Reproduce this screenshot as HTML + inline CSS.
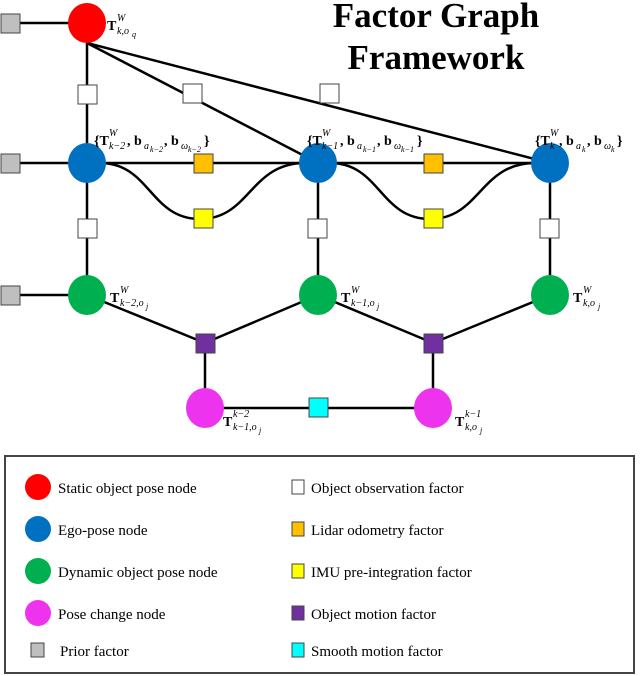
<!DOCTYPE html>
<html><head><meta charset="utf-8"><style>
html,body{margin:0;padding:0;background:#fff}
svg{display:block}
.lg{font-family:"Liberation Serif",serif;font-size:15px}
.m{font-family:"Liberation Serif",serif;font-size:14px;font-weight:bold}
.s{font-family:"Liberation Serif",serif;font-size:10px;font-style:italic}
.ss{font-family:"Liberation Serif",serif;font-size:8px;font-style:italic}
</style></head><body>
<svg width="640" height="676" viewBox="0 0 640 676" xmlns="http://www.w3.org/2000/svg">
<g stroke="#000" stroke-width="2.5" fill="none">
<line x1="10" y1="23" x2="87" y2="23"/>
<line x1="10" y1="163" x2="550" y2="163"/>
<line x1="10" y1="295" x2="87" y2="295"/>
<line x1="87" y1="23" x2="87" y2="295"/>
<line x1="318" y1="163" x2="318" y2="295"/>
<line x1="550" y1="163" x2="550" y2="295"/>
<line x1="87" y1="43" x2="318" y2="163"/>
<line x1="87" y1="43" x2="550" y2="163"/>
<path d="M100,163 C150,163 150,219 200,219 C250,219 250,163 305,163"/>
<path d="M330,163 C380,163 380,219 430,219 C480,219 480,163 535,163"/>
<line x1="87" y1="295" x2="205" y2="343"/>
<line x1="318" y1="295" x2="205" y2="343"/>
<line x1="318" y1="295" x2="433" y2="343"/>
<line x1="550" y1="295" x2="433" y2="343"/>
<line x1="205" y1="343" x2="205" y2="408"/>
<line x1="433" y1="343" x2="433" y2="408"/>
<line x1="205" y1="408" x2="433" y2="408"/>
</g>
<g stroke="#444" stroke-width="1">
<rect x="1" y="14" width="19" height="19" fill="#bfbfbf"/>
<rect x="1" y="154" width="19" height="19" fill="#bfbfbf"/>
<rect x="1" y="286" width="19" height="19" fill="#bfbfbf"/>
<rect x="78" y="85" width="19" height="19" fill="#fff"/>
<rect x="183" y="84" width="19" height="19" fill="#fff"/>
<rect x="320" y="84" width="19" height="19" fill="#fff"/>
<rect x="78" y="219" width="19" height="19" fill="#fff"/>
<rect x="308" y="219" width="19" height="19" fill="#fff"/>
<rect x="540" y="219" width="19" height="19" fill="#fff"/>
<rect x="194" y="154" width="19" height="19" fill="#ffc000"/>
<rect x="424" y="154" width="19" height="19" fill="#ffc000"/>
<rect x="194" y="209" width="19" height="19" fill="#ffff00"/>
<rect x="424" y="209" width="19" height="19" fill="#ffff00"/>
<rect x="196" y="334" width="19" height="19" fill="#7030a0"/>
<rect x="424" y="334" width="19" height="19" fill="#7030a0"/>
<rect x="309" y="398" width="19" height="19" fill="#00ffff"/>
</g>
<ellipse cx="87" cy="23" rx="19" ry="20" fill="#ff0000"/>
<ellipse cx="87" cy="163" rx="19" ry="20" fill="#0070c0"/>
<ellipse cx="318" cy="163" rx="19" ry="20" fill="#0070c0"/>
<ellipse cx="550" cy="163" rx="19" ry="20" fill="#0070c0"/>
<ellipse cx="87" cy="295" rx="19" ry="20" fill="#00b050"/>
<ellipse cx="318" cy="295" rx="19" ry="20" fill="#00b050"/>
<ellipse cx="550" cy="295" rx="19" ry="20" fill="#00b050"/>
<ellipse cx="205" cy="408" rx="19" ry="20" fill="#ee33ee"/>
<ellipse cx="433" cy="408" rx="19" ry="20" fill="#ee33ee"/>
<g font-family="Liberation Serif,serif" font-weight="bold" font-size="35" text-anchor="middle">
<text x="436" y="27">Factor Graph</text>
<text x="436" y="69">Framework</text>
</g>

<!-- red label -->
<g transform="translate(107,30)"><text class="m" x="0" y="0">T</text><text class="s" x="10" y="-9">W</text><text class="s" x="10" y="4">k,o</text><text class="ss" x="25" y="7">q</text></g>

<!-- blue labels -->
<g transform="translate(94,145)"><text class="m" x="0" y="0">{T</text><text class="s" x="15" y="-9">W</text><text class="s" x="15" y="4">k−2</text><text class="m" x="33" y="0">, b</text><text class="s" x="50" y="4">a</text><text class="ss" x="56" y="7">k−2</text><text class="m" x="70" y="0">, b</text><text class="s" x="87" y="4">ω</text><text class="ss" x="94" y="7">k−2</text><text class="m" x="110" y="0">}</text></g>
<g transform="translate(307,145)"><text class="m" x="0" y="0">{T</text><text class="s" x="15" y="-9">W</text><text class="s" x="15" y="4">k−1</text><text class="m" x="33" y="0">, b</text><text class="s" x="50" y="4">a</text><text class="ss" x="56" y="7">k−1</text><text class="m" x="70" y="0">, b</text><text class="s" x="87" y="4">ω</text><text class="ss" x="94" y="7">k−1</text><text class="m" x="110" y="0">}</text></g>
<g transform="translate(535,145)"><text class="m" x="0" y="0">{T</text><text class="s" x="15" y="-9">W</text><text class="s" x="15" y="4">k</text><text class="m" x="24" y="0">, b</text><text class="s" x="41" y="4">a</text><text class="ss" x="47" y="7">k</text><text class="m" x="52" y="0">, b</text><text class="s" x="69" y="4">ω</text><text class="ss" x="76" y="7">k</text><text class="m" x="82" y="0">}</text></g>

<!-- green labels -->
<g transform="translate(110,302)"><text class="m" x="0" y="0">T</text><text class="s" x="10" y="-9">W</text><text class="s" x="10" y="4">k−2,o</text><text class="ss" x="36" y="7">j</text></g>
<g transform="translate(341,302)"><text class="m" x="0" y="0">T</text><text class="s" x="10" y="-9">W</text><text class="s" x="10" y="4">k−1,o</text><text class="ss" x="36" y="7">j</text></g>
<g transform="translate(573,302)"><text class="m" x="0" y="0">T</text><text class="s" x="10" y="-9">W</text><text class="s" x="10" y="4">k,o</text><text class="ss" x="25" y="7">j</text></g>

<!-- magenta labels -->
<g transform="translate(223,426)"><text class="m" x="0" y="0">T</text><text class="s" x="10" y="-9">k−2</text><text class="s" x="10" y="4">k−1,o</text><text class="ss" x="36" y="7">j</text></g>
<g transform="translate(455,426)"><text class="m" x="0" y="0">T</text><text class="s" x="10" y="-9">k−1</text><text class="s" x="10" y="4">k,o</text><text class="ss" x="25" y="7">j</text></g>

<rect x="5" y="456" width="629" height="217" fill="none" stroke="#444" stroke-width="2"/>
<ellipse cx="38" cy="487" rx="13" ry="13" fill="#ff0000"/>
<ellipse cx="38" cy="529" rx="13" ry="13" fill="#0070c0"/>
<ellipse cx="38" cy="571" rx="13" ry="13" fill="#00b050"/>
<ellipse cx="38" cy="613" rx="13" ry="13" fill="#ee33ee"/>
<g stroke="#444" stroke-width="1">
<rect x="31" y="643" width="13" height="14" fill="#bfbfbf"/>
<rect x="292" y="480" width="12" height="14" fill="#fff"/>
<rect x="292" y="522" width="12" height="14" fill="#ffc000"/>
<rect x="292" y="564" width="12" height="14" fill="#ffff00"/>
<rect x="292" y="606" width="12" height="14" fill="#7030a0"/>
<rect x="292" y="643" width="12" height="14" fill="#00ffff"/>
</g>
<g class="lg">
<text x="58" y="493">Static object pose node</text>
<text x="58" y="535">Ego-pose node</text>
<text x="58" y="577">Dynamic object pose node</text>
<text x="58" y="619">Pose change node</text>
<text x="60" y="656">Prior factor</text>
<text x="311" y="493">Object observation factor</text>
<text x="311" y="535">Lidar odometry factor</text>
<text x="311" y="577">IMU pre-integration factor</text>
<text x="311" y="619">Object motion factor</text>
<text x="311" y="656">Smooth motion factor</text>
</g>
</svg>
</body></html>
